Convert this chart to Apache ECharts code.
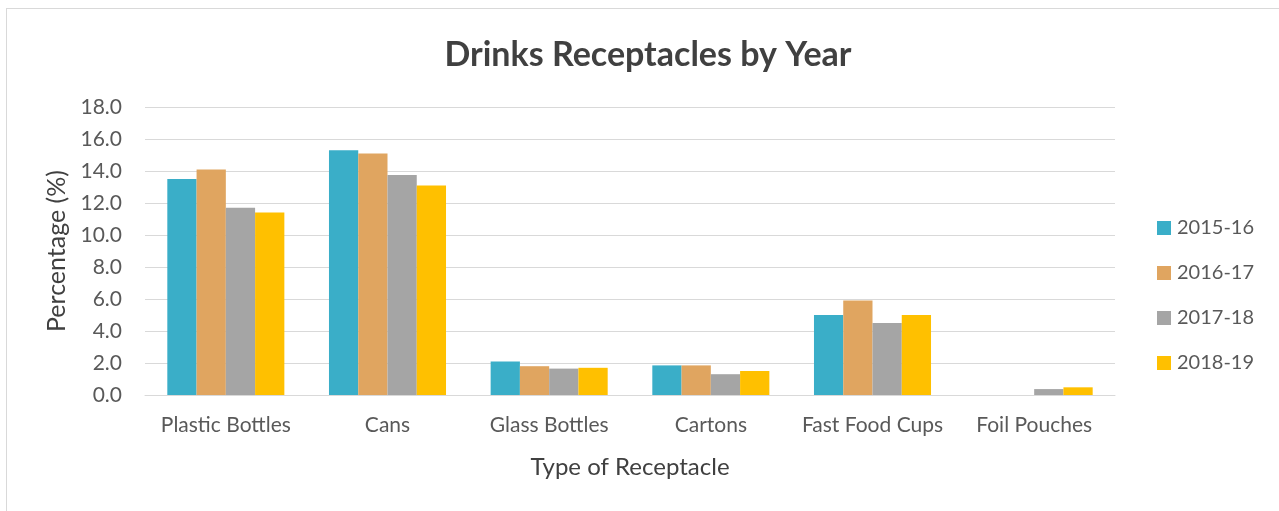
<!DOCTYPE html>
<html>
<head>
<meta charset="utf-8">
<script src="https://cdn.jsdelivr.net/npm/echarts@6/dist/echarts.min.js"></script>
<style>
  html, body { margin: 0; padding: 0; background: #fff; overflow: hidden; }
  #frame { position: absolute; left: 6px; top: 8px; width: 1300px; height: 520px; border: 1px solid #d9d9d9; box-sizing: border-box; }
  #chart { position: absolute; left: 0; top: 0; width: 1279px; height: 511px; }
</style>
</head>
<body>
<div id="frame"></div>
<div id="chart"></div>
<script>
const categories = ['Plastic Bottles', 'Cans', 'Glass Bottles', 'Cartons', 'Fast Food Cups', 'Foil Pouches'];
const years = ['2015-16', '2016-17', '2017-18', '2018-19'];
const values2015 = [13.5, 15.3, 2.1, 1.85, 5.0, 0];
const values2016 = [14.1, 15.1, 1.8, 1.85, 5.9, 0];
const values2017 = [11.7, 13.75, 1.65, 1.3, 4.5, 0.37];
const values2018 = [11.4, 13.1, 1.7, 1.5, 5.0, 0.48];
const seriesValues = [values2015, values2016, values2017, values2018];
const colors = ['#3AAEC8', '#E0A560', '#A5A5A5', '#FFC000'];

const fontFamily = 'Lato, "Open Sans", sans-serif';
const chart = echarts.init(document.getElementById('chart'));
chart.setOption({
  animation: false,
  color: colors,
  title: {
    text: 'Drinks Receptacles by Year',
    left: 643, top: 33, textAlign: 'center',
    textStyle: { fontFamily, fontSize: 34, fontWeight: 'bold', color: '#404040' }
  },
  legend: {
    orient: 'vertical',
    left: 1152, top: 213,
    itemWidth: 14, itemHeight: 14, itemGap: 25,
    icon: 'rect',
    textStyle: { fontFamily, fontSize: 20, color: '#595959', padding: [0, 0, 0, 1] },
    data: years
  },
  grid: { left: 145, right: 164, top: 107, bottom: 116 },
  xAxis: {
    type: 'category',
    data: categories,
    name: 'Type of Receptacle',
    nameLocation: 'middle',
    nameGap: 60,
    nameTextStyle: { fontFamily, fontSize: 24, color: '#404040' },
    axisLine: { lineStyle: { color: '#d9d9d9', width: 1 } },
    axisTick: { show: false },
    axisLabel: { interval: 0, fontFamily, fontSize: 21, color: '#595959', margin: 20 }
  },
  yAxis: {
    type: 'value',
    min: 0, max: 18, interval: 2,
    name: 'Percentage (%)',
    nameLocation: 'middle',
    nameGap: 76,
    nameTextStyle: { fontFamily, fontSize: 25, color: '#404040' },
    axisLine: { show: false },
    axisTick: { show: false },
    splitLine: { lineStyle: { color: '#d9d9d9', width: 1 } },
    axisLabel: { fontFamily, fontSize: 21, color: '#595959', margin: 23, formatter: v => v.toFixed(1) }
  },
  series: years.map((y, i) => ({
    name: y,
    type: 'bar',
    data: seriesValues[i],
    barGap: '0%',
    barCategoryGap: '27.6%'
  }))
});
</script>
</body>
</html>
